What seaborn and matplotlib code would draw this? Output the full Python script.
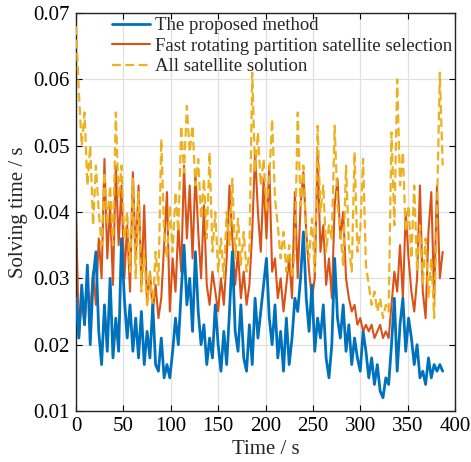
import numpy as np
import pandas as pd
import matplotlib
matplotlib.use('Agg')
import matplotlib.pyplot as plt
import seaborn as sns

# ── Data (solving time, ms, sampled every 3 s) ──────────────────────────────
time_s = np.arange(0, 390, 3)

proposed_ms = [
    27, 21, 29, 23, 32, 20, 30, 34, 22, 17,
    26, 19, 30, 18, 24, 19, 36, 27, 21, 26,
    19, 24, 18, 25, 17, 22, 18, 26, 17, 16,
    21, 15, 17, 15, 19, 24, 20, 28, 35, 26,
    30, 22, 34, 25, 20, 23, 17, 21, 18, 26,
    20, 16, 22, 17, 25, 34, 22, 19, 26, 18,
    16, 23, 17, 27, 21, 25, 29, 33, 24, 20,
    26, 18, 22, 16, 24, 17, 21, 27, 25, 30,
    37, 27, 22, 29, 19, 24, 21, 26, 18, 15,
    20, 33, 24, 21, 26, 19, 23, 17, 21, 18,
    16, 22, 19, 15, 18, 14, 17, 13, 12, 15,
    14, 20, 27, 16, 23, 27, 19, 24, 21, 17,
    20, 15, 16, 14, 18, 15, 17, 16, 17, 16,
]

fast_rotating_ms = [
    40, 21, 27, 23, 29, 25, 31, 26, 36, 30,
    48, 33, 41, 29, 47, 35, 44, 30, 38, 28,
    46, 33, 44, 29, 41, 26, 31, 25, 29, 24,
    27, 35, 43, 25, 33, 28, 38, 31, 47, 36,
    44, 33, 46, 37, 30, 41, 29, 26, 31, 28,
    25, 30, 26, 33, 44, 36, 29, 34, 27, 31,
    26, 29, 37, 49, 40, 34, 45, 36, 47, 31,
    33, 27, 30, 25, 29, 33, 27, 43, 30, 41,
    46, 37, 31, 27, 30, 49, 34, 38, 29, 33,
    27, 41, 45, 36, 40, 30, 27, 25, 26, 23,
    24, 22, 23, 22, 23, 21, 22, 23, 21, 22,
    21, 26, 31, 28, 35, 27, 40, 33, 28, 25,
    30, 44, 28, 24, 37, 43, 27, 44, 30, 34,
]

all_sat_ms = [
    68, 58, 50, 55, 44, 50, 38, 47, 40, 35,
    46, 38, 44, 35, 55, 42, 47, 36, 40, 31,
    45, 30, 43, 28, 34, 26, 31, 25, 34, 29,
    51, 37, 33, 41, 34, 43, 37, 53, 46, 56,
    49, 53, 44, 48, 39, 45, 36, 49, 34, 40,
    31, 36, 30, 40, 35, 45, 33, 39, 32, 37,
    31, 34, 61, 46, 52, 44, 48, 40, 45, 54,
    42, 38, 33, 37, 31, 35, 30, 34, 55, 41,
    47, 36, 33, 39, 31, 53, 40, 44, 34, 38,
    36, 53, 41, 37, 32, 47, 35, 31, 49, 34,
    37, 48, 32, 29, 26, 28, 25, 27, 24, 26,
    25, 52, 38, 60, 44, 49, 37, 41, 33, 44,
    31, 38, 29, 36, 27, 33, 24, 40, 61, 47,
]

labels = ['The proposed method',
          'Fast rotating partition satellite selection',
          'All satellite solution']

df = pd.DataFrame({
    'time': time_s,
    'proposed': np.array(proposed_ms) / 1000,
    'fast': np.array(fast_rotating_ms) / 1000,
    'all': np.array(all_sat_ms) / 1000,
})

# ── Plot ────────────────────────────────────────────────────────────────────
sns.set_theme(style='ticks')
plt.rcParams['font.family'] = ['Liberation Serif', 'DejaVu Serif']

fig = plt.figure(figsize=(4.71, 4.62), dpi=100)
ax = fig.add_axes([0.1614, 0.1104, 0.8046, 0.8615])

sns.lineplot(data=df, x='time', y='proposed', ax=ax, color='#0072BD',
             linewidth=2.0, label=labels[0], estimator=None, zorder=4)
sns.lineplot(data=df, x='time', y='fast', ax=ax, color='#D95319',
             linewidth=1.5, label=labels[1], estimator=None, zorder=2)
sns.lineplot(data=df, x='time', y='all', ax=ax, color='#EDB120',
             linewidth=1.6, linestyle=(0, (4, 2)), label=labels[2],
             estimator=None, zorder=3)

ax.set_xlim(0, 400)
ax.set_ylim(0.01, 0.07)
ax.set_xticks(np.arange(0, 401, 50))
ax.set_yticks([0.01, 0.02, 0.03, 0.04, 0.05, 0.06, 0.07])
ax.set_yticklabels(['0.01', '0.02', '0.03', '0.04', '0.05', '0.06', '0.07'])
ax.grid(True, color='#E0E0E0', linewidth=0.9)
ax.set_axisbelow(True)
ax.tick_params(direction='in', length=4, width=0.8, labelsize=15,
               top=True, right=True, pad=4.5, colors='black')
for sp in ax.spines.values():
    sp.set_linewidth(1.0)
    sp.set_color('#222222')

ax.set_xlabel('Time / s', fontsize=15, labelpad=3)
ax.set_ylabel('Solving time / s', fontsize=15, labelpad=4)

ax.legend(loc='upper left', bbox_to_anchor=(0.095, 0.99), frameon=False,
          fontsize=13.5, borderpad=0, borderaxespad=0, labelspacing=0.18,
          handlelength=2.0, handletextpad=0.3)

plt.savefig('out.png', dpi=100)
plt.close()
